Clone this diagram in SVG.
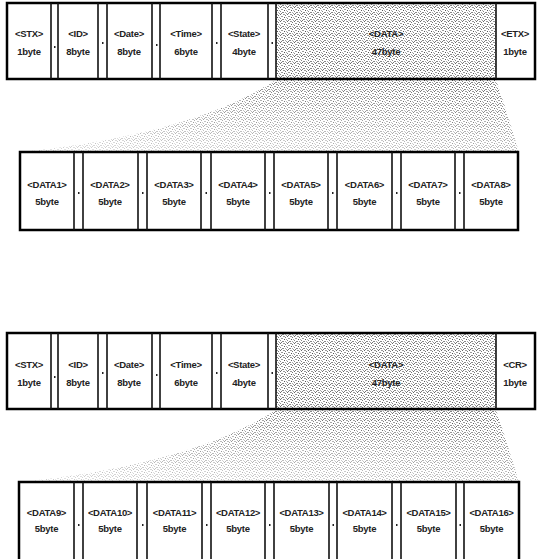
<svg xmlns="http://www.w3.org/2000/svg" width="539" height="559" viewBox="0 0 539 559">
<style>
  .frame{fill:none;stroke:#000;stroke-width:2.5}
  .sep{stroke:#111;stroke-width:1.6}
  .lbl{font-family:"Liberation Sans",Arial,sans-serif;font-size:9.5px;font-weight:bold;letter-spacing:-0.3px;fill:#222;text-anchor:middle}
  .dot{fill:#222}
</style>
<defs>
  <pattern id="dith" width="7" height="7" patternUnits="userSpaceOnUse">
    <rect width="7" height="7" fill="#fff"/>
    <rect x="0" y="0" width="1" height="1" fill="#666"/>
    <rect x="3" y="0" width="2" height="1" fill="#999"/>
    <rect x="5" y="1" width="1" height="1" fill="#777"/>
    <rect x="1" y="2" width="2" height="1" fill="#999"/>
    <rect x="4" y="3" width="1" height="1" fill="#555"/>
    <rect x="6" y="3" width="1" height="1" fill="#aaa"/>
    <rect x="0" y="4" width="1" height="1" fill="#888"/>
    <rect x="2" y="5" width="2" height="1" fill="#888"/>
    <rect x="5" y="5" width="1" height="1" fill="#aaa"/>
    <rect x="1" y="6" width="1" height="1" fill="#777"/>
    <rect x="6" y="6" width="1" height="1" fill="#999"/>
  </pattern>
  <linearGradient id="fadeG1" x1="0.7" y1="0" x2="0.2" y2="1">
    <stop offset="0" stop-color="#fff" stop-opacity="1"/>
    <stop offset="1" stop-color="#fff" stop-opacity="0.3"/>
  </linearGradient>
  <mask id="fade" maskContentUnits="objectBoundingBox">
    <rect width="1" height="1" fill="url(#fadeG1)"/>
  </mask>
</defs>

<g id="connectors">
  <path d="M276,80 L496,80 Q508,115 519,152 L20,152 Q190,135 276,80 Z" fill="url(#dith)" mask="url(#fade)"/>
  <path d="M276,410 L496,410 Q508,445 519,482 L19,482 Q190,465 276,410 Z" fill="url(#dith)" mask="url(#fade)"/>
</g>

<!-- Frame 1 -->
<g id="frame1">
  <rect x="276" y="3" width="220" height="76" fill="url(#dith)"/>
  <rect class="frame" x="7" y="3" width="528" height="76"/>
  <g class="sep">
    <line x1="51" y1="3" x2="51" y2="79"/><line x1="58" y1="3" x2="58" y2="79"/>
    <line x1="98" y1="3" x2="98" y2="79"/><line x1="107" y1="3" x2="107" y2="79"/>
    <line x1="152" y1="3" x2="152" y2="79"/><line x1="160" y1="3" x2="160" y2="79"/>
    <line x1="212" y1="3" x2="212" y2="79"/><line x1="221" y1="3" x2="221" y2="79"/>
    <line x1="268" y1="3" x2="268" y2="79"/><line x1="276" y1="3" x2="276" y2="79"/>
    <line x1="496" y1="3" x2="496" y2="79"/>
  </g>
  <g class="dot">
    <rect x="54" y="46" width="1.5" height="2"/><rect x="102" y="42" width="1.5" height="2"/>
    <rect x="156" y="44" width="1.5" height="2"/><rect x="216" y="42" width="1.5" height="2"/>
    <rect x="271.5" y="42" width="1.5" height="2"/>
  </g>
</g>
<g id="f1-stx"><text class="lbl" x="29" y="37">&lt;STX&gt;</text><text class="lbl" x="29" y="55">1byte</text></g>
<g id="f1-id"><text class="lbl" x="78" y="37">&lt;ID&gt;</text><text class="lbl" x="78" y="55">8byte</text></g>
<g id="f1-date"><text class="lbl" x="129" y="37">&lt;Date&gt;</text><text class="lbl" x="129" y="55">8byte</text></g>
<g id="f1-time"><text class="lbl" x="186" y="37">&lt;Time&gt;</text><text class="lbl" x="186" y="55">6byte</text></g>
<g id="f1-state"><text class="lbl" x="244" y="37">&lt;State&gt;</text><text class="lbl" x="244" y="55">4byte</text></g>
<g id="f1-data"><text class="lbl" x="386" y="37">&lt;DATA&gt;</text><text class="lbl" x="386" y="55">47byte</text></g>
<g id="f1-etx"><text class="lbl" x="515" y="37">&lt;ETX&gt;</text><text class="lbl" x="515" y="55">1byte</text></g>

<!-- Row DATA1-8 -->
<g id="row2">
  <rect class="frame" x="20" y="152" width="498" height="78"/>
  <g class="sep">
    <line x1="74" y1="152" x2="74" y2="230"/><line x1="83" y1="152" x2="83" y2="230"/>
    <line x1="138" y1="152" x2="138" y2="230"/><line x1="147" y1="152" x2="147" y2="230"/>
    <line x1="201" y1="152" x2="201" y2="230"/><line x1="211" y1="152" x2="211" y2="230"/>
    <line x1="265" y1="152" x2="265" y2="230"/><line x1="274" y1="152" x2="274" y2="230"/>
    <line x1="328" y1="152" x2="328" y2="230"/><line x1="337" y1="152" x2="337" y2="230"/>
    <line x1="392" y1="152" x2="392" y2="230"/><line x1="401" y1="152" x2="401" y2="230"/>
    <line x1="455" y1="152" x2="455" y2="230"/><line x1="464" y1="152" x2="464" y2="230"/>
  </g>
  <g class="dot">
    <rect x="78" y="192" width="1.5" height="2"/><rect x="142" y="192" width="1.5" height="2"/>
    <rect x="205.5" y="192" width="1.5" height="2"/><rect x="269" y="192" width="1.5" height="2"/>
    <rect x="332" y="192" width="1.5" height="2"/><rect x="396" y="192" width="1.5" height="2"/>
    <rect x="459" y="192" width="1.5" height="2"/>
  </g>
</g>
<g id="data1"><text class="lbl" x="47" y="188">&lt;DATA1&gt;</text><text class="lbl" x="47" y="205">5byte</text></g>
<g id="data2"><text class="lbl" x="110" y="188">&lt;DATA2&gt;</text><text class="lbl" x="110" y="205">5byte</text></g>
<g id="data3"><text class="lbl" x="174" y="188">&lt;DATA3&gt;</text><text class="lbl" x="174" y="205">5byte</text></g>
<g id="data4"><text class="lbl" x="238" y="188">&lt;DATA4&gt;</text><text class="lbl" x="238" y="205">5byte</text></g>
<g id="data5"><text class="lbl" x="301" y="188">&lt;DATA5&gt;</text><text class="lbl" x="301" y="205">5byte</text></g>
<g id="data6"><text class="lbl" x="364.5" y="188">&lt;DATA6&gt;</text><text class="lbl" x="364.5" y="205">5byte</text></g>
<g id="data7"><text class="lbl" x="428" y="188">&lt;DATA7&gt;</text><text class="lbl" x="428" y="205">5byte</text></g>
<g id="data8"><text class="lbl" x="491" y="188">&lt;DATA8&gt;</text><text class="lbl" x="491" y="205">5byte</text></g>

<!-- Frame 2 -->
<g id="frame2">
  <rect x="276" y="333" width="220" height="76" fill="url(#dith)"/>
  <rect class="frame" x="7" y="333" width="528" height="76"/>
  <g class="sep">
    <line x1="51" y1="333" x2="51" y2="409"/><line x1="58" y1="333" x2="58" y2="409"/>
    <line x1="98" y1="333" x2="98" y2="409"/><line x1="107" y1="333" x2="107" y2="409"/>
    <line x1="152" y1="333" x2="152" y2="409"/><line x1="160" y1="333" x2="160" y2="409"/>
    <line x1="212" y1="333" x2="212" y2="409"/><line x1="221" y1="333" x2="221" y2="409"/>
    <line x1="268" y1="333" x2="268" y2="409"/><line x1="276" y1="333" x2="276" y2="409"/>
    <line x1="496" y1="333" x2="496" y2="409"/>
  </g>
  <g class="dot">
    <rect x="54" y="376" width="1.5" height="2"/><rect x="102" y="372" width="1.5" height="2"/>
    <rect x="156" y="374" width="1.5" height="2"/><rect x="216" y="372" width="1.5" height="2"/>
    <rect x="271.5" y="372" width="1.5" height="2"/>
  </g>
</g>
<g id="f2-stx"><text class="lbl" x="29" y="368">&lt;STX&gt;</text><text class="lbl" x="29" y="386">1byte</text></g>
<g id="f2-id"><text class="lbl" x="78" y="368">&lt;ID&gt;</text><text class="lbl" x="78" y="386">8byte</text></g>
<g id="f2-date"><text class="lbl" x="129" y="368">&lt;Date&gt;</text><text class="lbl" x="129" y="386">8byte</text></g>
<g id="f2-time"><text class="lbl" x="186" y="368">&lt;Time&gt;</text><text class="lbl" x="186" y="386">6byte</text></g>
<g id="f2-state"><text class="lbl" x="244" y="368">&lt;State&gt;</text><text class="lbl" x="244" y="386">4byte</text></g>
<g id="f2-data"><text class="lbl" x="386" y="368">&lt;DATA&gt;</text><text class="lbl" x="386" y="386">47byte</text></g>
<g id="f2-cr"><text class="lbl" x="515" y="368">&lt;CR&gt;</text><text class="lbl" x="515" y="386">1byte</text></g>

<!-- Row DATA9-16 -->
<g id="row4">
  <rect class="frame" x="19" y="482" width="500" height="82"/>
  <g class="sep">
    <line x1="74" y1="482" x2="74" y2="559"/><line x1="83" y1="482" x2="83" y2="559"/>
    <line x1="137" y1="482" x2="137" y2="559"/><line x1="147" y1="482" x2="147" y2="559"/>
    <line x1="202" y1="482" x2="202" y2="559"/><line x1="211" y1="482" x2="211" y2="559"/>
    <line x1="265" y1="482" x2="265" y2="559"/><line x1="274" y1="482" x2="274" y2="559"/>
    <line x1="329" y1="482" x2="329" y2="559"/><line x1="337" y1="482" x2="337" y2="559"/>
    <line x1="392" y1="482" x2="392" y2="559"/><line x1="401" y1="482" x2="401" y2="559"/>
    <line x1="456" y1="482" x2="456" y2="559"/><line x1="464" y1="482" x2="464" y2="559"/>
  </g>
  <g class="dot">
    <rect x="78" y="524" width="1.5" height="2"/><rect x="142" y="524" width="1.5" height="2"/>
    <rect x="206" y="524" width="1.5" height="2"/><rect x="269" y="524" width="1.5" height="2"/>
    <rect x="332.5" y="524" width="1.5" height="2"/><rect x="396" y="524" width="1.5" height="2"/>
    <rect x="459.5" y="524" width="1.5" height="2"/>
  </g>
</g>
<g id="data9"><text class="lbl" x="46.5" y="516">&lt;DATA9&gt;</text><text class="lbl" x="46.5" y="532">5byte</text></g>
<g id="data10"><text class="lbl" x="110" y="516">&lt;DATA10&gt;</text><text class="lbl" x="110" y="532">5byte</text></g>
<g id="data11"><text class="lbl" x="174.5" y="516">&lt;DATA11&gt;</text><text class="lbl" x="174.5" y="532">5byte</text></g>
<g id="data12"><text class="lbl" x="238" y="516">&lt;DATA12&gt;</text><text class="lbl" x="238" y="532">5byte</text></g>
<g id="data13"><text class="lbl" x="301.5" y="516">&lt;DATA13&gt;</text><text class="lbl" x="301.5" y="532">5byte</text></g>
<g id="data14"><text class="lbl" x="364.5" y="516">&lt;DATA14&gt;</text><text class="lbl" x="364.5" y="532">5byte</text></g>
<g id="data15"><text class="lbl" x="428.5" y="516">&lt;DATA15&gt;</text><text class="lbl" x="428.5" y="532">5byte</text></g>
<g id="data16"><text class="lbl" x="491.5" y="516">&lt;DATA16&gt;</text><text class="lbl" x="491.5" y="532">5byte</text></g>
</svg>
